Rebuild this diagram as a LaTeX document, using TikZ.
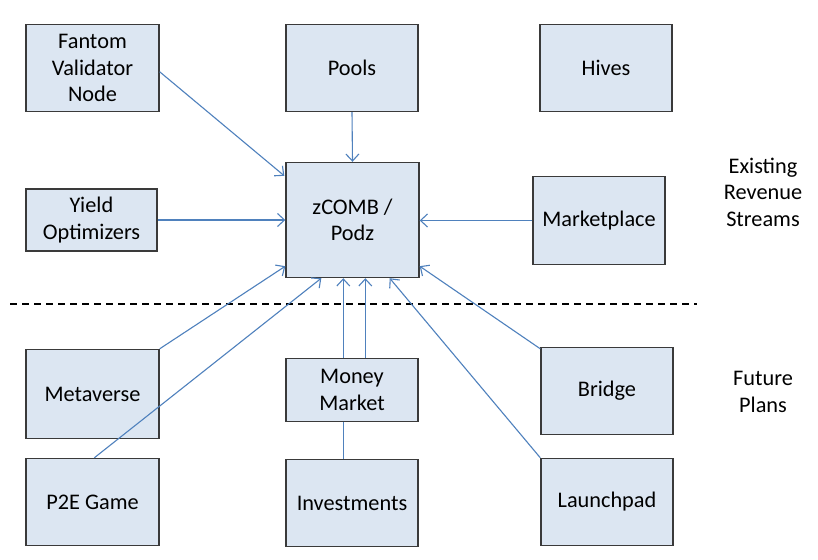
\documentclass[tikz,border=0pt]{standalone}
\usepackage{fontspec}
\setmainfont{Carlito}
\usetikzlibrary{arrows.meta,calc}
\definecolor{boxfill}{HTML}{DCE6F2}
\definecolor{boxdraw}{HTML}{3A3A3A}
\definecolor{arrowblue}{HTML}{4F81BD}
\begin{document}
\begin{tikzpicture}[x=1pt,y=-1pt,
  box/.style={draw=boxdraw,fill=boxfill,line width=1.4pt,align=center,inner sep=0pt,
    font=\fontsize{22.3}{26.5}\selectfont},
  arr/.style={draw=arrowblue,line width=1.1pt,-{Straight Barb[length=7pt,width=13pt,line width=1.1pt]}},
  plain/.style={draw=arrowblue,line width=1.1pt},
  lbl/.style={align=center,font=\fontsize{22.3}{26.5}\selectfont,inner sep=0pt}]
\useasboundingbox[fill=white] (0,0) rectangle (818,559);
\node[box,minimum width=133,minimum height=87] (fantom) at (92.5,68) {Fantom\\Validator\\Node};
\node[box,minimum width=132,minimum height=87] (pools) at (352,68) {Pools};
\node[box,minimum width=132,minimum height=87] (hives) at (606,68) {Hives};
\node[box,minimum width=133,minimum height=115] (zcomb) at (352.5,220) {zCOMB /\\Podz};
\node[box,minimum width=131,minimum height=62] (yield) at (91.5,220) {Yield\\Optimizers};
\node[box,minimum width=132,minimum height=88] (market) at (599,220.5) {Marketplace};
\node[box,minimum width=133,minimum height=89] (meta) at (92.5,394) {Metaverse};
\node[box,minimum width=132,minimum height=63] (money) at (352,390) {Money\\Market};
\node[box,minimum width=132,minimum height=87] (bridge) at (607,391) {Bridge};
\node[box,minimum width=133,minimum height=87] (p2e) at (92.5,502) {P2E Game};
\node[box,minimum width=132,minimum height=87] (invest) at (352,503) {Investments};
\node[box,minimum width=132,minimum height=87] (launch) at (607,502) {Launchpad};
\node[lbl] (existing) at (763,192) {Existing\\Revenue\\Streams};
\node[lbl] (future) at (763,392) {Future\\Plans};
\coordinate (dl) at (10,304);
\coordinate (dr) at (697,304);
\draw[black,line width=1.8pt,dash pattern=on 7pt off 5pt] (dl) -- (dr);
% connectors
\draw[arr] ($(fantom.north east)+(0,48)$) -- ($(zcomb.north west)+(-1,14)$);
\draw[arr] (pools.south) -- (zcomb.north);
\draw[arr] (yield.east) -- (zcomb.west |- yield.east);
\draw[arr] (market.west) -- (zcomb.east |- market.west);
\draw[arr] (meta.north east) -- ($(zcomb.south west)+(0,-12)$);
\draw[arr] ($(p2e.north west)+(69,0)$) -- ($(zcomb.south west)+(36,0)$);
\draw[arr] ($(money.north west)+(58,0)$) -- ($(zcomb.south west)+(58,0)$);
\draw[arr] ($(money.north west)+(80,0)$) -- ($(zcomb.south west)+(80,0)$);
\draw[plain] ($(invest.north west)+(58,0)$) -- ($(money.south west)+(58,0)$);
\draw[arr] ($(bridge.north west)+(0,2)$) -- ($(zcomb.south east)+(0,-12)$);
\draw[arr] (launch.north west) -- ($(zcomb.south east)+(-30,0)$);
\end{tikzpicture}
\end{document}
